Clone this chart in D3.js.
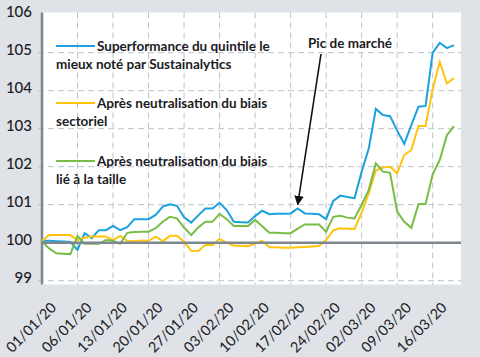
<!DOCTYPE html>
<html><head><meta charset="utf-8">
<script src="https://cdn.jsdelivr.net/npm/d3@7"></script>
<style>
html,body{margin:0;padding:0;background:#dfe2e7;}
svg{display:block;}
text{font-family:"Lato","Open Sans",sans-serif;fill:#1c1c24;}
</style></head>
<body><svg id="c" width="480" height="357"></svg>
<script>
// x categories: trading days, one tick label every 5 points
const tickLabels = ["01/01/20","06/01/20","13/01/20","20/01/20","27/01/20","03/02/20","10/02/20","17/02/20","24/02/20","02/03/20","09/03/20","16/03/20"];
const yTicks = [99,100,101,102,103,104,105,106];

const superformance = [100.05,100.05,100.04,100.03,100.02,99.81,100.25,100.12,100.33,100.33,
  100.44,100.33,100.41,100.62,100.62,100.62,100.73,100.95,101.01,100.97,
  100.67,100.53,100.72,100.90,100.90,101.05,100.86,100.55,100.54,100.53,
  100.70,100.84,100.75,100.76,100.76,100.77,100.90,100.77,100.76,100.75,
  100.62,101.10,101.24,101.20,101.17,101.87,102.48,103.52,103.36,103.33,
  102.95,102.60,103.10,103.58,103.60,105.00,105.26,105.12,105.20];
const neutreSecteur = [100.05,100.20,100.20,100.20,100.20,100.07,100.13,100.16,100.16,100.16,
  100.07,100.18,100.05,100.04,100.06,100.05,100.16,100.04,100.18,100.18,
  100.03,99.79,99.78,99.94,99.94,100.10,100.00,99.92,99.92,99.91,
  99.98,100.05,99.88,99.88,99.87,99.87,99.88,99.89,99.90,99.91,
  100.07,100.33,100.38,100.37,100.36,100.79,101.30,101.90,101.98,102.00,
  101.83,102.31,102.44,103.07,103.07,104.04,104.76,104.19,104.33];
const neutreTaille = [100.03,99.85,99.72,99.71,99.70,100.18,99.97,99.97,99.97,100.07,
  100.05,99.97,100.26,100.28,100.29,100.29,100.38,100.55,100.68,100.64,
  100.40,100.20,100.40,100.55,100.55,100.76,100.62,100.44,100.44,100.44,
  100.60,100.43,100.26,100.26,100.25,100.25,100.37,100.48,100.48,100.48,
  100.29,100.68,100.71,100.66,100.64,101.00,101.39,102.09,101.87,101.84,
  100.82,100.55,100.39,101.02,101.02,101.80,102.18,102.83,103.07];

const seriesNames = [["Superformance du quintile le","mieux noté par Sustainalytics"],
                     ["Après neutralisation du biais","sectoriel"],
                     ["Après neutralisation du biais","lié à la taille"]];
const seriesColors = ["#1ba1de","#ffc40d","#78bd45"];
const seriesData = [superformance, neutreSecteur, neutreTaille];
const annotation = "Pic de marché";
const peakIndex = 36;

const svg = d3.select("#c");
const L=41, R=461, T=12.5, B=284.5;
const x = d3.scaleLinear().domain([0, superformance.length-1]).range([42, 454]);
const y = d3.scaleLinear().domain([99,106]).range([280.7, 14.7]);

svg.append("rect").attr("x",L).attr("y",T).attr("width",R-L).attr("height",B-T).attr("fill","#fff");

const grid = svg.append("g").attr("stroke","#bcc3c9").attr("stroke-width",1).attr("stroke-dasharray","6,4");
yTicks.filter(v=>v!==100 && v!==106).forEach(v=>{
  grid.append("line").attr("x1",38).attr("x2",R).attr("y1",y(v)).attr("y2",y(v));
});
const xTickIdx = tickLabels.map((d,i)=>i*5);
xTickIdx.filter(i=>i>0).forEach(i=>{
  grid.append("line").attr("x1",x(i)).attr("x2",x(i)).attr("y1",T).attr("y2",B);
});

// y axis labels
const yAxis = d3.axisLeft(y).tickValues(yTicks).tickSize(0).tickPadding(0).tickFormat(d3.format("d"));
const gy = svg.append("g").attr("transform","translate(32,0)").call(yAxis);
gy.select(".domain").remove();
gy.selectAll("text").attr("font-size",15).attr("font-family","Lato, sans-serif").attr("fill","#1c1c24")
  .attr("dy","0.1em").attr("font-weight","500");

// x axis labels
const xAxis = d3.axisBottom(x).tickValues(xTickIdx).tickSize(0).tickFormat((d,i)=>tickLabels[i]);
const gx = svg.append("g").attr("transform","translate(0,305)").call(xAxis);
gx.select(".domain").remove();
gx.selectAll("text").attr("font-size",14.5).attr("font-family","Lato, sans-serif").attr("fill","#1c1c24")
  .attr("text-anchor","end").attr("dy","0.35em").attr("y",0)
  .attr("transform",function(){return "translate(11,0) rotate(-45)";});

// axis lines
svg.append("line").attr("x1",42).attr("x2",42).attr("y1",T).attr("y2",B).attr("stroke","#7e878f").attr("stroke-width",2.5);

// series lines
const line = d3.line().x((d,i)=>x(i)).y(d=>y(d));
seriesData.forEach((s,k)=>{
  svg.append("path").datum(s).attr("d",line).attr("fill","none")
    .attr("stroke",seriesColors[k]).attr("stroke-width",2).attr("stroke-linejoin","miter");
});
svg.append("line").attr("x1",42).attr("x2",R).attr("y1",y(100)).attr("y2",y(100)).attr("stroke","#7e878f").attr("stroke-width",2.5);

// legend
const legY = [46, 103, 161];
const leg = svg.append("g").attr("font-size",13.5).attr("font-weight","700");
seriesNames.forEach((nm,k)=>{
  leg.append("line").attr("x1",56).attr("x2",95).attr("y1",legY[k]).attr("y2",legY[k])
    .attr("stroke",seriesColors[k]).attr("stroke-width",2.2);
  leg.append("text").attr("x",97).attr("y",legY[k]+4.5).text(nm[0]);
  leg.append("text").attr("x",56).attr("y",legY[k]+22.5).text(nm[1]);
});

// annotation
svg.append("defs").append("marker").attr("id","ah").attr("viewBox","0 0 10 10").attr("refX",9).attr("refY",5)
  .attr("markerWidth",6).attr("markerHeight",6).attr("orient","auto")
  .append("path").attr("d","M0,0L10,5L0,10z").attr("fill","#111");
svg.append("text").attr("x",308).attr("y",47.5).attr("font-size",13.5).attr("font-weight","700").text(annotation);
svg.append("line").attr("x1",321).attr("y1",54).attr("x2",x(peakIndex)).attr("y2",y(superformance[peakIndex])-4)
  .attr("stroke","#111").attr("stroke-width",1.6).attr("marker-end","url(#ah)");
</script></body></html>
